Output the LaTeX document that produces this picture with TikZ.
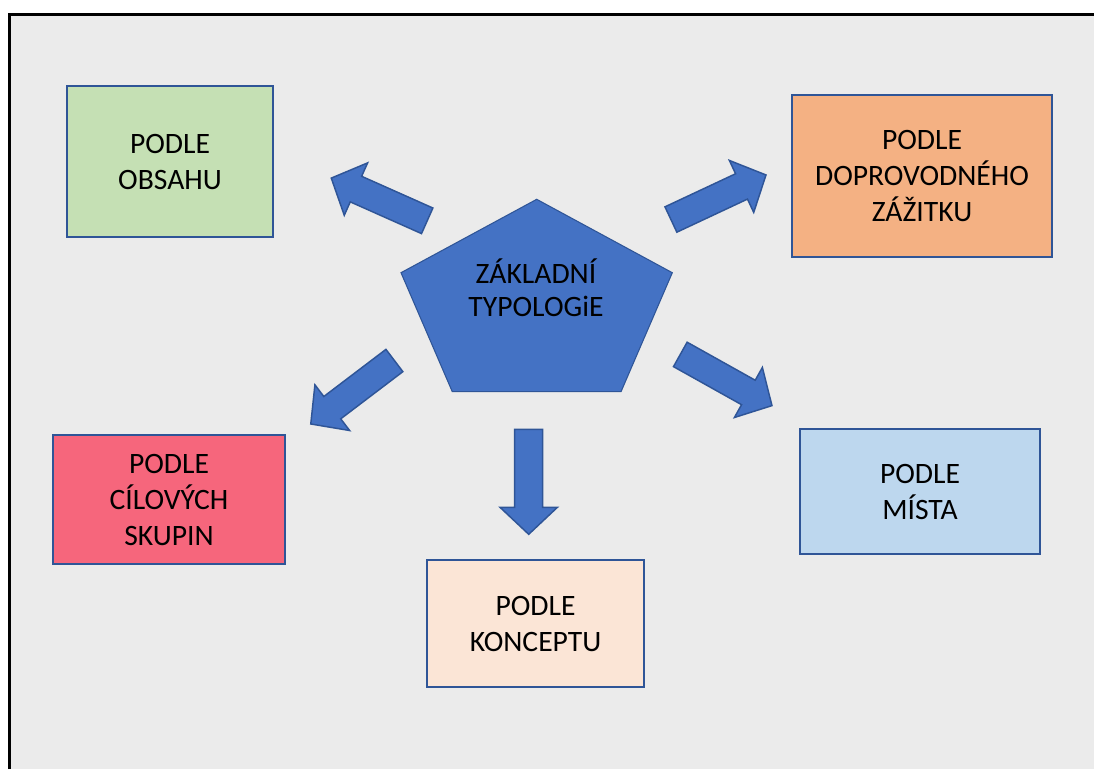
\documentclass[tikz,border=0pt]{standalone}
\usepackage{fontspec}
\setmainfont{Carlito}
\usepackage{tikz}
\usetikzlibrary{positioning}
\definecolor{cBack}{RGB}{235,235,235}
\definecolor{cLine}{RGB}{47,85,151}
\definecolor{cBlue}{RGB}{68,114,196}
\definecolor{cObsah}{RGB}{197,224,180}
\definecolor{cZazitek}{RGB}{244,177,131}
\definecolor{cSkupiny}{RGB}{246,102,124}
\definecolor{cMisto}{RGB}{189,215,238}
\definecolor{cKoncept}{RGB}{251,229,214}

\begin{document}
\begin{tikzpicture}[x=0.75pt, y=-0.75pt,
      box/.style={draw=cLine, line width=1.1pt, font=\fontsize{22.2}{27}\selectfont,
                  align=center, inner sep=0pt},
      barrow/.pic={\draw[fill=cBlue, draw=cLine, line width=1.1pt, line join=miter]
          (0,-14) -- (78,-14) -- (78,-28.7) -- (105,0) -- (78,28.7) -- (78,14) -- (0,14) -- cycle;}]
    \useasboundingbox (0,0) rectangle (1094,769);
    % frame
    \fill[cBack] (8,13) rectangle (1094,769);
    \draw[line width=2.25pt] (9.5,769) -- (9.5,14.5) -- (1094,14.5);
    % centre
    \coordinate (pt) at (536.7,199.3);
    \coordinate (pl) at (401,272.7);
    \coordinate (pr) at (672.3,272.7);
    \coordinate (pbl) at (452.3,391.7);
    \coordinate (pbr) at (621,391.7);
    \draw[fill=cBlue, draw=cLine, line width=0.8pt] (pt) -- (pr) -- (pbr) -- (pbl) -- (pl) -- cycle;
    \node[font=\fontsize{22.2}{25}\selectfont, align=center] (typ) at (536,288) {ZÁKLADNÍ\\TYPOLOGiE};
    % boxes
    \node[box, fill=cObsah, minimum width=206*0.75pt, minimum height=151*0.75pt] (obsah) at (170,161.5) {PODLE\\OBSAHU};
    \node[box, fill=cZazitek, minimum width=260*0.75pt, minimum height=162*0.75pt] (zazitek) at (922,176) {PODLE\\DOPROVODNÉHO\\ZÁŽITKU};
    \node[box, fill=cSkupiny, minimum width=232*0.75pt, minimum height=129*0.75pt] (skupiny) at (169,499.5) {PODLE\\CÍLOVÝCH\\SKUPIN};
    \node[box, fill=cMisto, minimum width=240*0.75pt, minimum height=125*0.75pt] (misto) at (920,491.5) {PODLE\\MÍSTA};
    \node[box, fill=cKoncept, minimum width=217*0.75pt, minimum height=127*0.75pt] (koncept) at (535.5,623.5) {PODLE\\KONCEPTU};
    % arrows
    \pic[rotate=156] at (427.2,220.8) {barrow};
    \pic[rotate=25.1] at (670.9,219.5) {barrow};
    \pic[rotate=217.2] at (394.4,360.5) {barrow};
    \pic[rotate=-29.2] at (680.3,354.4) {barrow};
    \pic[rotate=-90] at (528.7,429.3) {barrow};
  \end{tikzpicture}
\end{document}
